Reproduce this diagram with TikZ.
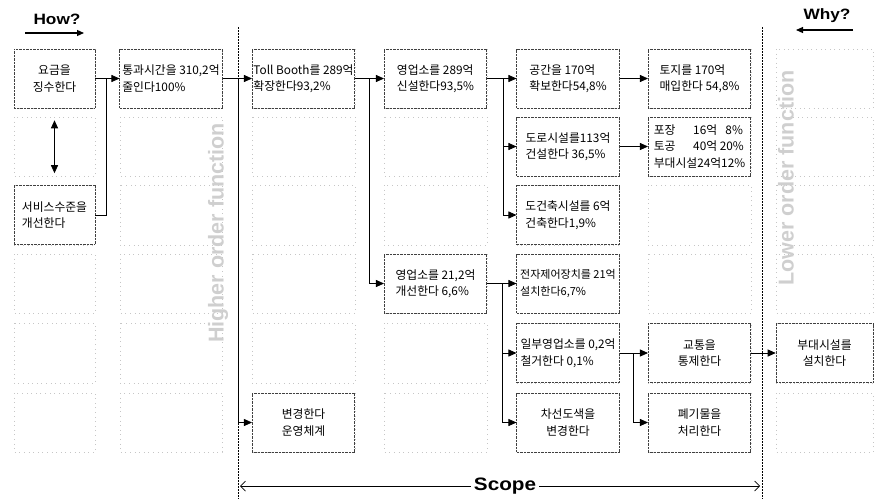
\documentclass[tikz,border=0pt]{standalone}
\usepackage{fontspec}
\usepackage{graphicx}
\usetikzlibrary{arrows.meta}
\newfontfamily\kr{Noto Sans CJK KR}
\newfontfamily\hd{Liberation Sans}[FakeStretch=1.15]
\newfontfamily\sidefont{Liberation Sans}
\begin{document}
\begin{tikzpicture}[x=1pt,y=-1pt,
  every node/.style={font=\kr\fontsize{11.8}{16.5}\selectfont, inner sep=1pt},
  box/.style={draw=black!75, dash pattern=on 0.9pt off 0.5pt, line width=0.55pt,
              fill=white, minimum height=59pt, inner sep=0.5pt, align=center},
  wa/.style={minimum width=81pt},
  wb/.style={minimum width=102.5pt},
  wc/.style={minimum width=97pt},
  lt/.style={align=left},
  faint/.style={draw=gray!45, line width=0.5pt, dash pattern=on 0.6pt off 4pt},
  conn/.style={line width=0.8pt},
  arr/.style={line width=0.8pt, -{Triangle[length=8pt,width=7pt]}},
  darr/.style={line width=0.8pt, {Triangle[length=8pt,width=7pt]}-{Triangle[length=8pt,width=7pt]}},
  vdash/.style={line width=0.9pt, dash pattern=on 2pt off 1pt},
  scopearr/.style={line width=0.7pt, -{Straight Barb[length=5pt,width=10pt]}},
  headarr/.style={line width=1.2pt, -{Triangle[length=7pt,width=6pt]}},
  head/.style={font=\hd\bfseries\fontsize{15}{15}\selectfont},
  side/.style={font=\sidefont\bfseries\fontsize{21.5}{21.5}\selectfont, text=gray!38, rotate=90}
]
\useasboundingbox (0,0) rectangle (882,499);

% faint background grid
\foreach \xa/\xb in {14/95,120/222,252/355,384/487,517/619,648/751,776/873}
  \foreach \ya/\yb in {49/108,117/176,185/245,254/313,323/383,393/452}
    \draw[faint] (\xa,\ya) rectangle (\xb,\yb);

% side texts
\node[side] (hof) at (218,233) {Higher order function};
\node[side] (lof) at (786,178) {Lower order function};

% scope boundaries
\coordinate (lt) at (238,27);
\coordinate (lb) at (238,499);
\coordinate (rt) at (762,27);
\coordinate (rb) at (762,499);
\draw[vdash] (lt) -- (lb);
\draw[vdash] (rt) -- (rb);

% headings
\node[head] (how) at (57,19) {How?};
\coordinate (howa) at (25,33);
\coordinate (howb) at (84,33);
\draw[headarr] (howa) -- (howb);
\node[head] (why) at (827,16) {Why?};
\coordinate (whya) at (853,30);
\coordinate (whyb) at (796,30);
\draw[headarr] (whya) -- (whyb);

% boxes
\node[box,wa] (b1) at (54.5,78.5) {요금을\\징수한다};
\node[box,wa,lt] (b2) at (54.5,215) {서비스수준을\\개선한다};
\node[box,wb,lt] (b3) at (171,78.5) {통과시간을 310,2억\\줄인다100\%};
\node[box,wb,lt] (b4) at (303.5,78.5) {Toll Booth를 289억\\확장한다93,2\%};
\node[box,wb,lt] (b5) at (435.5,78.5) {영업소를 289억\\신설한다93,5\%};
\node[box,wb,lt] (b6) at (568,78.5) {공간을 170억\\확보한다54,8\%};
\node[box,wb,lt] (b7) at (699.5,78.5) {토지를 170억\\매입한다 54,8\%};
\node[box,wb,lt] (b8) at (568,146.5) {도로시설를113억\\건설한다 36,5\%};
\node[box,wb,lt] (b9) at (699.5,146.5) {포장\hspace{1.5em}16억\hspace{0.7em}8\%\\토공\hspace{1.5em}40억 20\%\\부대시설24억12\%};
\node[box,wb,lt] (b10) at (568,215) {도건축시설를 6억\\건축한다1,9\%};
\node[box,wb,lt] (b11) at (435.5,283.5) {영업소를 21,2억\\개선한다 6,6\%};
\node[box,wb,lt,font=\kr\fontsize{11}{16.5}\selectfont] (b12) at (568,283.5) {전자제어장치를 21억\\설치한다6,7\%};
\node[box,wb,lt] (b13) at (568,353) {일부영업소를 0,2억\\철거한다 0,1\%};
\node[box,wb] (b14) at (568,422.5) {차선도색을\\변경한다};
\node[box,wb] (b15) at (303.5,422.5) {변경한다\\운영체계};
\node[box,wb] (b16) at (699.5,353) {교통을\\통제한다};
\node[box,wb] (b17) at (699.5,422.5) {폐기물을\\처리한다};
\node[box,wc] (b18) at (824.5,353) {부대시설를\\설치한다};

% junctions
\coordinate (j1) at (106,78.5);
\coordinate (j2) at (238,78.5);
\coordinate (j3) at (369,78.5);
\coordinate (j4) at (503,78.5);
\coordinate (j5) at (502,283.5);
\coordinate (j6) at (633,353);

% connectors
\draw[darr] ([yshift=-12pt]b1.south) -- ([yshift=12pt]b2.north);
\draw[arr] (b1.east) -- (b3.west);
\draw[conn] (b2.east) -| (j1);
\draw[arr] (b3.east) -- (b4.west);
\draw[arr] (j2) |- (b15.west);
\draw[arr] (b4.east) -- (b5.west);
\draw[arr] (j3) |- (b11.west);
\draw[arr] (b5.east) -- (b6.west);
\draw[arr] (j4) |- (b8.west);
\draw[arr] (j4) |- (b10.west);
\draw[arr] (b6.east) -- (b7.west);
\draw[arr] (b8.east) -- (b9.west);
\draw[arr] (b11.east) -- (b12.west);
\draw[arr] (j5) |- (b13.west);
\draw[arr] (j5) |- (b14.west);
\draw[arr] (b13.east) -- (b16.west);
\draw[arr] (j6) |- (b17.west);
\draw[arr] (b16.east) -- (b18.west);

% scope
\node[head, font=\hd\bfseries\fontsize{18}{18}\selectfont, inner sep=3pt] (scope) at (505,486) {Scope};
\coordinate (sl) at (240,486);
\coordinate (sr) at (760,486);
\draw[scopearr] (scope.west) -- (sl);
\draw[scopearr] (scope.east) -- (sr);
\end{tikzpicture}
\end{document}
